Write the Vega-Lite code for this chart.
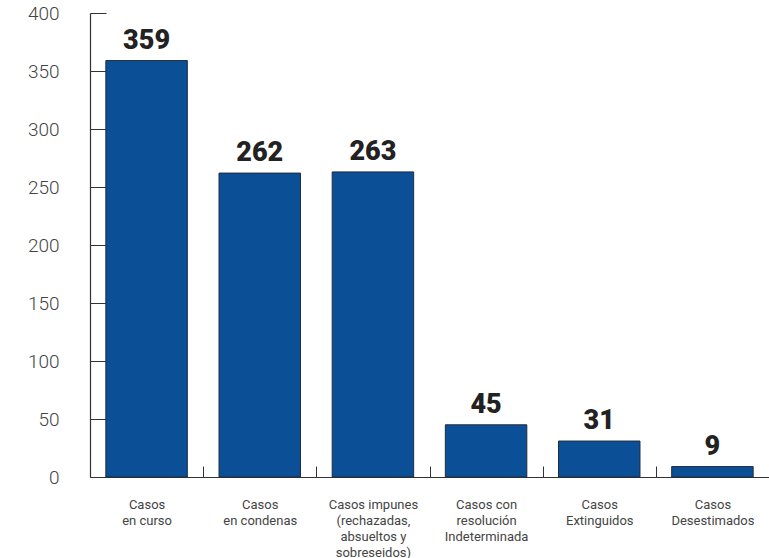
{
  "$schema": "https://vega.github.io/schema/vega-lite/v6.json",
  "width": 679,
  "height": 464,
  "autosize": {"type": "none"},
  "padding": {"left": 90, "top": 13, "right": 0, "bottom": 81},
  "background": "white",
  "config": {"view": {"stroke": null}, "font": "Roboto"},
  "data": {
    "values": [
      {"categoria": "Casos\nen curso", "casos": 359},
      {"categoria": "Casos\nen condenas", "casos": 262},
      {"categoria": "Casos impunes\n(rechazadas,\nabsueltos y\nsobreseidos)", "casos": 263},
      {"categoria": "Casos con\nresolución\nIndeterminada", "casos": 45},
      {"categoria": "Casos\nExtinguidos", "casos": 31},
      {"categoria": "Casos\nDesestimados", "casos": 9}
    ]
  },
  "encoding": {
    "x": {
      "field": "categoria",
      "type": "nominal",
      "sort": null,
      "scale": {"paddingInner": 0.28, "paddingOuter": 0.14},
      "axis": {
        "title": null,
        "labelAngle": 0,
        "labelExpr": "isValid(datum.value) ? split(datum.value, '\\n') : ''",
        "labelFont": "Roboto",
        "labelFontSize": 13,
        "labelColor": "#444444",
        "labelLineHeight": 16,
        "labelPadding": 32,
        "labelBaseline": "top",
        "labelLimit": 300,
        "tickOffset": 56.6,
        "labelOffset": -56.6,
        "tickSize": -11,
        "tickColor": "#333333",
        "domainColor": "#333333",
        "domainWidth": 1.2
      }
    },
    "y": {
      "field": "casos",
      "type": "quantitative",
      "scale": {"domain": [0, 400]},
      "axis": {
        "title": null,
        "values": [0, 50, 100, 150, 200, 250, 300, 350, 400],
        "grid": false,
        "labelFont": "Roboto",
        "labelFontWeight": 300,
        "labelFontSize": 19,
        "labelColor": "#444444",
        "labelPadding": 47,
        "tickSize": -16,
        "tickColor": "#333333",
        "domainColor": "#333333",
        "domainWidth": 1.2
      }
    }
  },
  "layer": [
    {
      "mark": {"type": "bar", "color": "#0b4f96", "stroke": "#1f2d3d", "strokeWidth": 1}
    },
    {
      "mark": {"type": "text", "baseline": "bottom", "dy": -6, "font": "Roboto", "fontWeight": 900, "fontSize": 27, "color": "#222222"},
      "encoding": {"text": {"field": "casos", "type": "quantitative"}}
    }
  ]
}
